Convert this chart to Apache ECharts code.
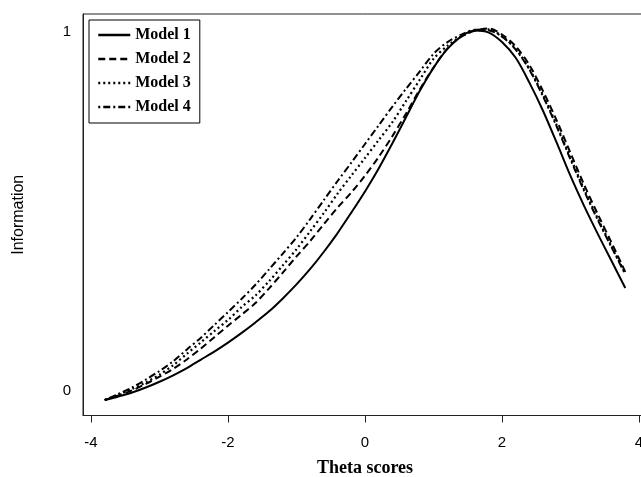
<!DOCTYPE html>
<html>
<head>
<meta charset="utf-8">
<script src="https://cdn.jsdelivr.net/npm/echarts@6/dist/echarts.min.js"></script>
<style>
html,body{margin:0;padding:0;background:#fff;}
#chart{width:641px;height:477px;}
</style>
</head>
<body>
<div id="chart"></div>
<script>
const theta = [-3.8,-3.6,-3.4,-3.2,-3.0,-2.8,-2.6,-2.4,-2.2,-2.0,-1.8,-1.6,-1.4,-1.2,-1.0,-0.8,-0.6,-0.4,-0.2,0.0,0.2,0.4,0.6,0.8,1.0,1.2,1.4,1.6,1.8,2.0,2.2,2.4,2.6,2.8,3.0,3.2,3.4,3.6,3.8];
const model1 = [-0.025,-0.015,-0.004,0.010,0.026,0.044,0.064,0.087,0.110,0.135,0.162,0.191,0.222,0.258,0.297,0.340,0.388,0.440,0.497,0.556,0.620,0.690,0.763,0.836,0.900,0.952,0.987,1.004,0.999,0.972,0.928,0.859,0.780,0.691,0.599,0.515,0.437,0.362,0.287];
const model2 = [-0.025,-0.012,0.002,0.020,0.040,0.062,0.088,0.118,0.150,0.182,0.213,0.245,0.286,0.330,0.375,0.418,0.465,0.511,0.553,0.600,0.652,0.710,0.773,0.840,0.901,0.953,0.986,1.003,1.010,0.993,0.960,0.908,0.835,0.753,0.663,0.574,0.492,0.413,0.332];
const model3 = [-0.025,-0.010,0.006,0.024,0.046,0.072,0.104,0.135,0.167,0.198,0.234,0.266,0.306,0.350,0.395,0.445,0.496,0.550,0.600,0.649,0.699,0.749,0.808,0.867,0.925,0.961,0.987,1.004,1.007,0.988,0.953,0.897,0.824,0.740,0.650,0.561,0.480,0.403,0.328];
const model4 = [-0.025,-0.008,0.010,0.032,0.056,0.083,0.116,0.148,0.184,0.220,0.257,0.296,0.339,0.383,0.428,0.479,0.532,0.585,0.636,0.688,0.740,0.792,0.842,0.890,0.939,0.971,0.992,1.006,1.005,0.987,0.951,0.895,0.820,0.736,0.645,0.557,0.476,0.400,0.325];
const seriesNames = ['Model 1','Model 2','Model 3','Model 4'];
const xTicks = [-4,-2,0,2,4];
const yTicks = [0,1];

const pairs = vals => theta.map((t,i) => [t, vals[i]]);
const styles = [
  {type:'solid', width:2},
  {type:[7,4], width:2},
  {type:[2,3], width:2.2},
  {type:[2,3,7,3], width:2}
];
const allVals = [model1, model2, model3, model4];

const chart = echarts.init(document.getElementById('chart'), null, {renderer:'canvas'});
chart.setOption({
  animation:false,
  backgroundColor:'#fff',
  grid:{left:83, top:14, right:-6, bottom:61.5, outerBoundsMode:'none', containLabel:false,
        show:true, borderColor:'#222', borderWidth:1, backgroundColor:'transparent'},
  legend:{
    show:true,
    orient:'vertical', left:89, top:20,
    data:seriesNames,
    backgroundColor:'#fff',
    borderColor:'#000', borderWidth:1, padding:[7,9,8,8],
    itemWidth:32, itemHeight:14, itemGap:8,
    textStyle:{fontFamily:'Liberation Serif', fontWeight:'bold', fontSize:16, lineHeight:14, color:'#000'},
    lineStyle:{width:2.5},
    itemStyle:{color:'rgba(0,0,0,0)', borderColor:'rgba(0,0,0,0)', borderWidth:0, opacity:0}
  },
  xAxis:{
    type:'value', min:-4.117, max:4.117,
    name:'Theta scores', nameLocation:'middle', nameGap:44,
    nameTextStyle:{fontFamily:'Liberation Serif', fontWeight:'bold', fontSize:18, color:'#000'},
    axisLine:{show:true, onZero:false, lineStyle:{color:'#222', width:1}},
    axisTick:{show:true, length:7, customValues:xTicks, lineStyle:{color:'#222'}},
    axisLabel:{customValues:xTicks, margin:20, fontFamily:'Liberation Sans', fontSize:15, color:'#000'},
    splitLine:{show:false}
  },
  yAxis:{
    type:'value', min:-0.068, max:1.05,
    name:'Information', nameLocation:'middle', nameGap:56,
    nameTextStyle:{fontFamily:'Liberation Sans', fontSize:16, color:'#000'},
    axisLine:{show:true, onZero:false, lineStyle:{color:'#222', width:1}},
    axisTick:{show:false},
    axisLabel:{customValues:yTicks, margin:12, fontFamily:'Liberation Sans', fontSize:15, color:'#000'},
    splitLine:{show:false}
  },
  series: seriesNames.map((n,i) => ({
    name:n, type:'line', data:pairs(allVals[i]),
    showSymbol:false, symbol:'none', smooth:0.3,
    lineStyle:Object.assign({color:'#000'}, styles[i]),
    itemStyle:{color:'#000'}
  }))
});
</script>
</body>
</html>
